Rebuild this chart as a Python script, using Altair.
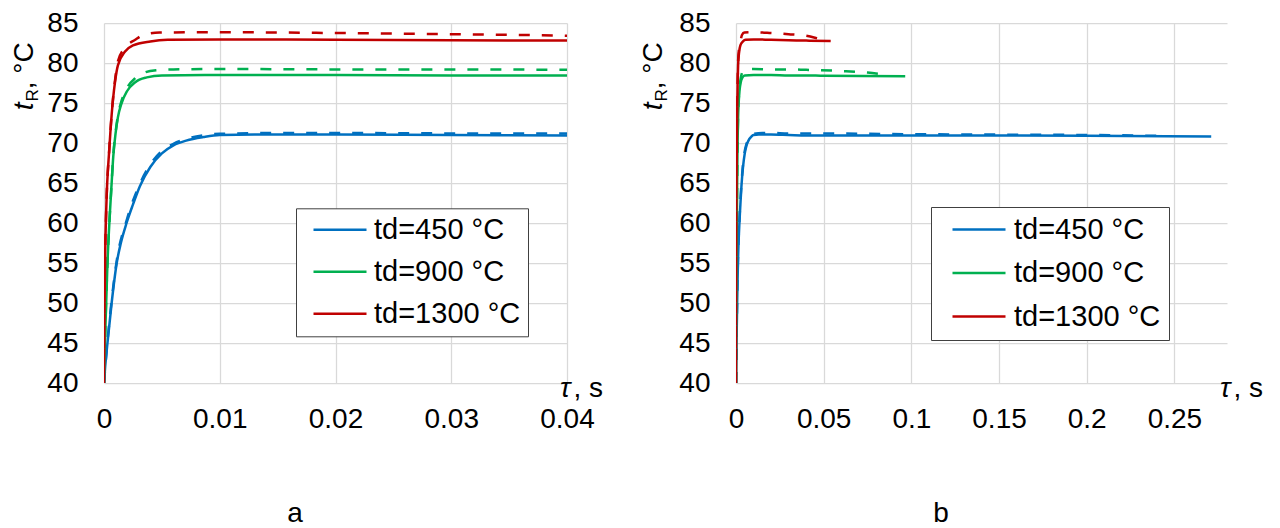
import altair as alt
import pandas as pd

FONT = "Liberation Sans"

SERIES = ["td=450 °C", "td=900 °C", "td=1300 °C"]
COLORS = ["#0070C0", "#00B050", "#C00000"]

# td=450 °C
T450_SOLID = [0, 0.0001, 0.0003, 0.00066, 0.0011, 0.00144, 0.00195, 0.0025, 0.0031, 0.004, 0.005, 0.006,
              0.0071, 0.0086, 0.01, 0.013, 0.02, 0.03, 0.04, 0.1, 0.2, 0.271]
Y450_SOLID = [40, 42, 45, 50, 55, 57.4, 60, 62.3, 64.6, 67.0, 68.7, 69.7,
              70.3, 70.75, 71.0, 71.05, 71.05, 71.0, 70.95, 70.95, 70.9, 70.8]
T450_DASH = [0, 0.0003, 0.00066, 0.0011, 0.00195, 0.0031, 0.004, 0.005, 0.006, 0.0071, 0.0086, 0.01,
             0.015, 0.02, 0.03, 0.04, 0.1, 0.15, 0.2, 0.24]
Y450_DASH = [40, 45.2, 50.3, 55.3, 60.3, 64.9, 67.3, 69.0, 69.9, 70.5, 70.95, 71.15,
             71.25, 71.25, 71.2, 71.2, 71.1, 71.05, 71.0, 70.9]

# td=900 °C
T900_SOLID = [0, 0.0001, 0.0003, 0.0005, 0.00066, 0.0008, 0.001, 0.0012, 0.0015, 0.002, 0.0027, 0.0037,
              0.005, 0.01, 0.02, 0.03, 0.04, 0.05, 0.0965]
Y900_SOLID = [40, 46, 55, 61, 65, 68.3, 71.2, 73.2, 74.9, 76.5, 77.6, 78.2,
              78.45, 78.5, 78.5, 78.45, 78.45, 78.4, 78.35]
T900_DASH = [0, 0.0001, 0.0003, 0.0005, 0.00066, 0.0008, 0.001, 0.0012, 0.0015, 0.002, 0.0027, 0.0035,
             0.0045, 0.006, 0.01, 0.02, 0.03, 0.04, 0.06, 0.075, 0.0845]
Y900_DASH = [40, 46, 55, 61, 65, 68.4, 71.3, 73.4, 75.2, 76.9, 78.1, 78.8,
             79.1, 79.2, 79.25, 79.2, 79.2, 79.15, 79.0, 78.8, 78.55]

# td=1300 °C
T1300_SOLID = [0, 0.00005, 0.0001, 0.0002, 0.00046, 0.00066, 0.00095, 0.0012, 0.0018, 0.0025, 0.004,
               0.0055, 0.01, 0.02, 0.03, 0.04, 0.054]
Y1300_SOLID = [40, 50, 56, 62, 69.3, 73.5, 77.6, 79.7, 81.4, 82.2, 82.7,
               82.9, 82.95, 82.9, 82.85, 82.8, 82.75]
T1300_DASH = [0, 0.00005, 0.0001, 0.0002, 0.00046, 0.00066, 0.00095, 0.0012, 0.0018, 0.0027, 0.0034,
              0.0048, 0.01, 0.02, 0.03, 0.04, 0.045, 0.049]
Y1300_DASH = [40, 50, 56, 62, 69.3, 73.6, 77.8, 80.2, 81.9, 82.9, 83.5,
              83.8, 83.85, 83.75, 83.6, 83.4, 83.15, 82.9]

Y_TICKS = [40, 45, 50, 55, 60, 65, 70, 75, 80, 85]
XA_TICKS = [0, 0.01, 0.02, 0.03, 0.04]
XB_TICKS = [0, 0.05, 0.1, 0.15, 0.2, 0.25]

rows = []
for name, kind, ts, ys in [
    (SERIES[0], "solid", T450_SOLID, Y450_SOLID),
    (SERIES[1], "solid", T900_SOLID, Y900_SOLID),
    (SERIES[2], "solid", T1300_SOLID, Y1300_SOLID),
    (SERIES[0], "dashed", T450_DASH, Y450_DASH),
    (SERIES[1], "dashed", T900_DASH, Y900_DASH),
    (SERIES[2], "dashed", T1300_DASH, Y1300_DASH),
]:
    for t, y in zip(ts, ys):
        rows.append({"series": name, "kind": kind, "t": t, "y": y})
df = pd.DataFrame(rows)

ONE = alt.Data(values=[{"k": 0}])


def txt(s, x, y, size=28, style="normal", angle=0, align="left", baseline="alphabetic"):
    return alt.Chart(ONE).mark_text(
        text=s, font=FONT, fontSize=size, fontStyle=style, angle=angle,
        align=align, baseline=baseline, color="black"
    ).encode(x=alt.value(x), y=alt.value(y))


def panel(xmax, xticks, w, h, leg, ytitle_x, caption, cap_x):
    xenc = alt.X("t:Q", title=None,
                 scale=alt.Scale(domain=[0, xmax], nice=False, zero=False),
                 axis=alt.Axis(values=xticks, labelExpr="format(datum.value, '~g')",
                               labelPadding=22, labelFlush=False, labelOverlap=False))
    yenc = alt.Y("y:Q", title=None,
                 scale=alt.Scale(domain=[40, 85], nice=False, zero=False),
                 axis=alt.Axis(values=Y_TICKS, labelPadding=26, labelOverlap=False))
    cscale = alt.Scale(domain=SERIES, range=COLORS)
    base = alt.Chart(df)
    solid = base.transform_filter(alt.datum.kind == "solid").mark_line(
        strokeWidth=2.5, clip=True, interpolate="monotone"
    ).encode(
        x=xenc, y=yenc,
        color=alt.Color("series:N", scale=cscale, sort=SERIES, legend=alt.Legend(
            title=None, orient="none", legendX=leg["x"], legendY=leg["y"],
            direction="vertical", symbolType="stroke", symbolSize=2809,
            symbolStrokeWidth=2.5, labelFont=FONT, labelFontSize=29, labelColor="black",
            labelLimit=400, labelOffset=leg["lo"], padding=leg["pad"],
            rowPadding=leg["rp"], clipHeight=leg["ch"], symbolOffset=leg["so"],
            strokeColor="#404040", fillColor="white")),
    )
    dashed = base.transform_filter(alt.datum.kind == "dashed").mark_line(
        strokeWidth=2.5, strokeDash=[11, 12], clip=True, interpolate="monotone"
    ).encode(
        x=xenc, y=yenc,
        color=alt.Color("series:N", scale=cscale, sort=SERIES, legend=None),
    )
    texts = [
        txt("t", ytitle_x, 87.3, 28, "italic", 270),
        txt("R", ytitle_x + 5, 78.5, 17, "normal", 270),
        txt(", °C", ytitle_x, 66.3, 28, "normal", 270),
        txt("τ", w - 7, h + 14, 28, "italic"),
        txt(", s", w - 7 + 13.5, h + 14, 28, "normal"),
        txt(caption, cap_x, 491, 28, "normal", 0, "center", "middle"),
    ]
    return alt.layer(solid, dashed, *texts).properties(width=w, height=h)


left = panel(0.04, XA_TICKS, 463, 360,
             {"x": 192, "y": 185.3, "pad": 7, "so": 9, "ch": 29, "rp": 12, "lo": 6},
             -71, "a", 191)
right = panel(0.28, XB_TICKS, 491, 360,
              {"x": 195, "y": 184, "pad": 8, "so": 12, "ch": 29, "rp": 13.5, "lo": 7},
              -74, "b", 205)

chart = alt.hconcat(left, right, spacing=36).resolve_scale(color="independent").resolve_legend(
    color="independent"
).properties(
    padding={"left": 3, "top": 1, "right": 0, "bottom": 0}
).configure_view(stroke=None).configure_axis(
    grid=True, gridColor="#d9d9d9", gridWidth=1.25, domain=False, ticks=False, tickSize=0,
    labelFont=FONT, labelFontSize=28, labelColor="black"
)

chart.save("out.html", embed_options={"renderer": "svg", "actions": False})
